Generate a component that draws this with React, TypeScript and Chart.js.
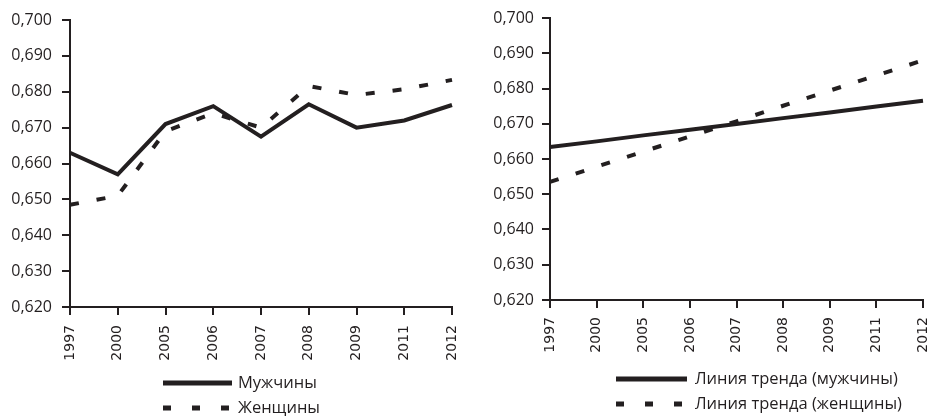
import React, { useEffect, useRef } from "react";
import { Chart, registerables } from "chart.js";

Chart.register(...registerables);

const categories = ["1997", "2000", "2005", "2006", "2007", "2008", "2009", "2011", "2012"];
const men = [0.663, 0.657, 0.671, 0.676, 0.6675, 0.6765, 0.670, 0.672, 0.6763];
const women = [0.6485, 0.651, 0.669, 0.674, 0.670, 0.6816, 0.6791, 0.6807, 0.6833];
const menTrend = [0.6634, 0.665, 0.6667, 0.6683, 0.6699, 0.6716, 0.6732, 0.6749, 0.6765];
const womenTrend = [0.6535, 0.6578, 0.6621, 0.6664, 0.6707, 0.6751, 0.6794, 0.6837, 0.688];
const leftLabels = ["Мужчины", "Женщины"];
const rightLabels = ["Линия тренда (мужчины)", "Линия тренда (женщины)"];
const yMin = 0.62;
const yMax = 0.7;
const yStep = 0.01;

const INK = "#231f20";

const stackLegend = {
  id: "stackLegend",
  afterDraw(chart: any, _args: any, opts: any) {
    const ctx = chart.ctx;
    chart.data.datasets.forEach((ds: any, i: number) => {
      const y = opts.rows[i];
      ctx.save();
      ctx.strokeStyle = ds.borderColor;
      ctx.lineWidth = 5;
      ctx.lineCap = "butt";
      ctx.setLineDash(ds.borderDash && ds.borderDash.length ? opts.dash : []);
      ctx.beginPath();
      ctx.moveTo(opts.x, y);
      ctx.lineTo(opts.x + opts.len, y);
      ctx.stroke();
      ctx.setLineDash([]);
      ctx.fillStyle = INK;
      ctx.font = opts.font;
      ctx.textBaseline = "middle";
      ctx.textAlign = "left";
      ctx.fillText(ds.label, opts.x + opts.len + opts.gap, y);
      ctx.restore();
    });
  },
};

function makeConfig(
  labels: string[],
  series: number[][],
  yWidth: number,
  pad: { top: number; right: number; bottom: number },
  xHeight: number,
  xPad: number,
  yPad: number,
  legend: any
): any {
  return {
    type: "line",
    data: {
      labels: categories,
      datasets: series.map((s, i) => ({
        label: labels[i],
        data: s,
        borderColor: INK,
        backgroundColor: INK,
        borderWidth: 4,
        borderDash: i === 1 ? [9, 18] : [],
        pointRadius: 0,
        tension: 0,
        fill: false,
      })),
    },
    options: {
      responsive: false,
      animation: false,
      events: [],
      layout: { padding: { left: 0, top: pad.top, right: pad.right, bottom: pad.bottom } },
      plugins: {
        legend: { display: false },
        tooltip: { enabled: false },
        stackLegend: legend,
      },
      scales: {
        x: {
          type: "category",
          offset: false,
          afterFit: (scale: any) => {
            scale.height = xHeight;
            scale.paddingRight = 0;
            scale.paddingLeft = 0;
          },
          border: { display: true, color: INK, width: 2 },
          grid: {
            display: true,
            drawOnChartArea: false,
            drawTicks: true,
            tickLength: 8,
            color: INK,
            lineWidth: 2,
          },
          ticks: {
            autoSkip: false,
            minRotation: 90,
            maxRotation: 90,
            padding: xPad,
            color: INK,
            font: { family: "DejaVu Sans", size: 14 },
          },
        },
        y: {
          min: yMin,
          max: yMax,
          afterFit: (scale: any) => {
            scale.width = yWidth;
          },
          border: { display: true, color: INK, width: 2 },
          grid: {
            display: true,
            drawOnChartArea: false,
            drawTicks: true,
            tickLength: 8,
            color: INK,
            lineWidth: 2,
          },
          ticks: {
            stepSize: yStep,
            padding: yPad,
            color: INK,
            font: { family: "'Open Sans', sans-serif", size: 16 },
            callback: (v: any) => Number(v).toFixed(3).replace(".", ","),
          },
        },
      },
    },
    plugins: [stackLegend],
  };
}

function Panel(props: { left: number; width: number; config: any }) {
  const ref = useRef<HTMLCanvasElement | null>(null);
  useEffect(() => {
    if (!ref.current) return;
    const chart = new Chart(ref.current, props.config);
    return () => chart.destroy();
  }, []);
  return (
    <div style={{ position: "absolute", left: props.left, top: 0, width: props.width, height: 417 }}>
      <canvas ref={ref} width={props.width} height={417} style={{ display: "block" }} />
    </div>
  );
}

export default function App() {
  const leftCfg = makeConfig(
    leftLabels,
    [men, women],
    70,
    { top: 20, right: 13, bottom: 50 },
    60,
    10,
    10,
    { x: 163, len: 69, gap: 6, rows: [383, 408], dash: [8, 21], font: "16.5px 'Open Sans', sans-serif" }
  );
  const rightCfg = makeConfig(
    rightLabels,
    [menTrend, womenTrend],
    85,
    { top: 18, right: 6, bottom: 57 },
    60,
    9,
    8,
    { x: 151, len: 71, gap: 8, rows: [379, 404], dash: [8, 21], font: "16.5px 'Open Sans', sans-serif" }
  );
  return (
    <div style={{ position: "absolute", left: 0, top: 0, width: 929, height: 417, background: "#fff" }}>
      <Panel left={0} width={465} config={leftCfg} />
      <Panel left={465} width={464} config={rightCfg} />
    </div>
  );
}
